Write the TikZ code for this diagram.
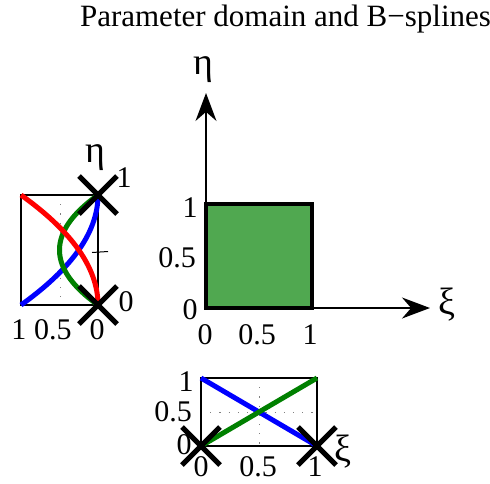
\documentclass[tikz,border=0pt]{standalone}
\usepackage{fontspec}
\setmainfont{Liberation Serif}
\usetikzlibrary{arrows.meta}
\definecolor{domgreen}{RGB}{80,168,80}
\definecolor{splgreen}{RGB}{0,128,0}
\begin{document}
\begin{tikzpicture}[x=1pt,y=-1pt,
    every node/.style={font=\fontsize{30}{33}\selectfont, inner sep=0pt},
    greek/.style={font=\fontsize{38}{40}\selectfont},
    frame/.style={line width=1.5pt},
    gridline/.style={gray, line width=1pt, dash pattern=on 1.2pt off 8pt},
    curve/.style={line width=5pt},
    marker/.style={line width=5pt},
    axis/.style={line width=1.5pt, -{Stealth[length=28pt,width=21pt]}}]
    \useasboundingbox (0,0) rectangle (490,483);

    % title
    \node[anchor=base, font=\fontsize{31}{34}\selectfont] (title) at (285.5,26) {Parameter domain and B−splines};

    % parameter domain
    \coordinate (O) at (206,308);
    \coordinate (P) at (312,204);
    \coordinate (Xend) at (430,308);
    \coordinate (Yend) at (206,93);
    \draw[line width=3.5pt, fill=domgreen] (O) rectangle (P);
    \draw[axis] (O) -- (Xend);
    \draw[axis] (O) -- (Yend);
    \node[greek] (eta) at (203,70) {η};
    \node[greek] (xi) at (447,305) {ξ};
    \node (y1) at (190,208) {1};
    \node (y05) at (177,258) {0.5};
    \node (y0) at (190,310) {0};
    \node (x0) at (205,335) {0};
    \node (x05) at (257,335) {0.5};
    \node (x1) at (310,335) {1};

    % B-splines in eta (rotated plot)
    \coordinate (LA) at (21,195);
    \coordinate (LB) at (98,305);
    \draw[gridline] (60,195) -- (60,305);
    \draw[frame] (LA) rectangle (LB);
    \draw[line width=1pt] (92,252.5) -- (108,251.5);
    \draw[curve, blue] plot[variable=\t, domain=0:1, samples=40] ({98-77*(1-\t)^2}, {305-110*\t});
    \draw[curve, splgreen] plot[variable=\t, domain=0:1, samples=40] ({98-154*\t*(1-\t)}, {305-110*\t});
    \draw[curve, red] plot[variable=\t, domain=0:1, samples=40] ({98-77*\t^2}, {305-110*\t});
    \coordinate (L1) at (98,195);
    \coordinate (L0) at (98,305);
    \draw[marker] (L1) ++(-19,-19) -- ++(38,38) (L1) ++(-19,19) -- ++(38,-38);
    \draw[marker] (L0) ++(-19,-19) -- ++(38,38) (L0) ++(-19,19) -- ++(38,-38);
    \node[greek] (leta) at (95,158) {η};
    \node (lk1) at (124,178) {1};
    \node (lk0) at (126,302) {0};
    \node (lx1) at (19,330) {1};
    \node (lx05) at (53,330) {0.5};
    \node (lx0) at (97,330) {0};

    % B-splines in xi
    \coordinate (BA) at (201,378);
    \coordinate (BB) at (317,446);
    \draw[gridline] (259,378) -- (259,446);
    \draw[gridline] (201,412) -- (317,412);
    \draw[frame] (BA) rectangle (BB);
    \draw[curve, blue] (BA) -- (BB);
    \draw[curve, splgreen] (BA |- BB) -- (BB |- BA);
    \coordinate (B0) at (201,446);
    \coordinate (B1) at (317,446);
    \draw[marker] (B0) ++(-19,-19) -- ++(38,38) (B0) ++(-19,19) -- ++(38,-38);
    \draw[marker] (B1) ++(-19,-19) -- ++(38,38) (B1) ++(-19,19) -- ++(38,-38);
    \node (by1) at (186,382) {1};
    \node (by05) at (173,412) {0.5};
    \node (by0) at (184,445) {0};
    \node (bx0) at (201,467) {0};
    \node (bx05) at (258,467) {0.5};
    \node (bx1) at (315,467) {1};
    \node[greek] (bxi) at (343,452) {ξ};
  \end{tikzpicture}
\end{document}
